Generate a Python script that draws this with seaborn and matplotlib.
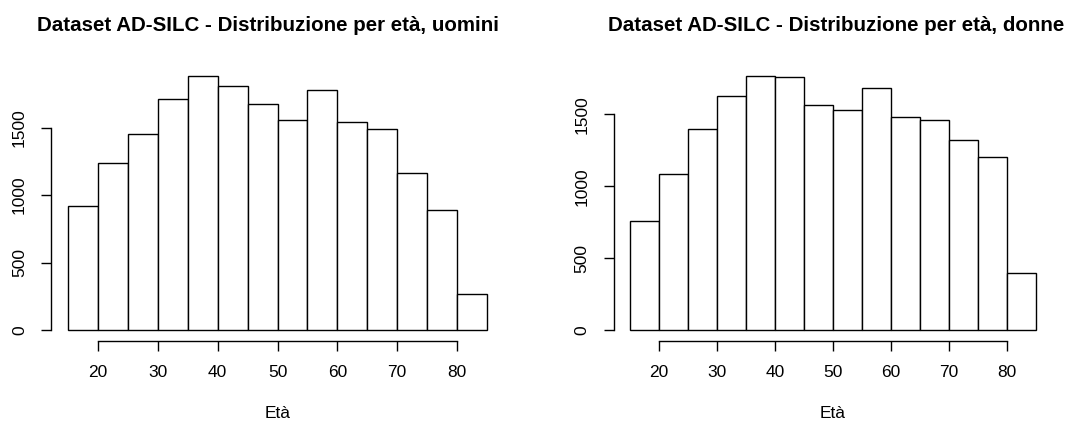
import matplotlib
matplotlib.use("Agg")
import matplotlib.pyplot as plt
import seaborn as sns
import numpy as np
import pandas as pd

# Età: classi di 5 anni da 15 a 85, conteggi
bin_edges = [15, 20, 25, 30, 35, 40, 45, 50, 55, 60, 65, 70, 75, 80, 85]
counts_uomini = [923, 1238, 1451, 1710, 1882, 1811, 1678, 1557, 1776, 1542, 1493, 1167, 891, 266]
counts_donne = [759, 1086, 1398, 1630, 1766, 1759, 1567, 1530, 1681, 1482, 1461, 1322, 1202, 396]
x_ticks = [20, 30, 40, 50, 60, 70, 80]
y_ticks = [0, 500, 1000, 1500]
titles = ["Dataset AD-SILC - Distribuzione per età, uomini",
          "Dataset AD-SILC - Distribuzione per età, donne"]

sns.set_style("white")
plt.rcParams['font.family'] = ['Liberation Sans', 'DejaVu Sans']

mid = [(a + b) / 2 for a, b in zip(bin_edges[:-1], bin_edges[1:])]

fig = plt.figure(figsize=(10.77, 4.23), dpi=100)
W, H = 1077, 423
# posizioni delle aree di disegno in pixel (sinistra, destra, alto, basso)
boxes = [(51.4, 503.6, 66, 340.6), (613.8, 1052, 66, 340.6)]
title_x = [0.478, 0.507]

for box, counts, title, tx in zip(boxes, [counts_uomini, counts_donne], titles, title_x):
    l, r, t, b = box
    ax = fig.add_axes([l / W, (H - b) / H, (r - l) / W, (b - t) / H])
    df = pd.DataFrame({'eta': mid, 'n': counts})
    sns.histplot(data=df, x='eta', weights='n', bins=bin_edges, ax=ax,
                 color='white', edgecolor='black', linewidth=1.0, alpha=1)
    ymax = max(counts) * 1.04
    ax.set_xlim(12.2, 87.8)
    ax.set_ylim(-0.04 * ymax, ymax)
    ax.set_xticks(x_ticks)
    ax.set_yticks(y_ticks)
    ax.set_yticklabels([str(v) for v in y_ticks], rotation=90, va='center')
    for s in ['top', 'right']:
        ax.spines[s].set_visible(False)
    ax.spines['left'].set_bounds(0, 1500)
    ax.spines['bottom'].set_bounds(20, 80)
    for s in ['left', 'bottom']:
        ax.spines[s].set_color('black')
        ax.spines[s].set_linewidth(1.0)
    ax.tick_params(axis='both', direction='out', length=7.5, width=1.0,
                   color='black', labelsize=12.5, labelcolor='black',
                   left=True, bottom=True)
    ax.tick_params(axis='x', pad=10)
    ax.tick_params(axis='y', pad=10)
    ax.set_ylabel('')
    ax.set_xlabel('Età', fontsize=12.5, labelpad=19, color='black')
    ax.set_title(title, fontsize=14.8, fontweight='bold', pad=25, color='black', x=tx)

fig.savefig('out.png', dpi=100, facecolor='white')
